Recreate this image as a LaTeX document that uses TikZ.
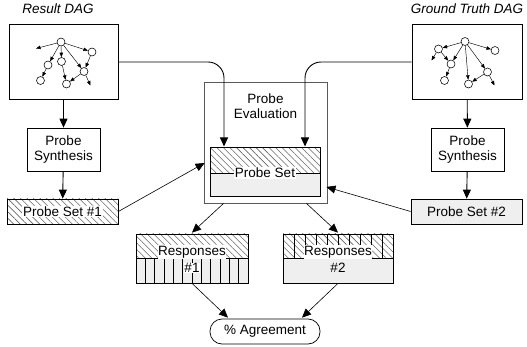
\documentclass[tikz,border=0pt]{standalone}
\usepackage{fontspec}
\setmainfont{Liberation Sans}
\usetikzlibrary{arrows.meta,patterns.meta,calc}
\definecolor{lgray}{HTML}{EFEFEF}
\tikzset{
  box/.style={draw=black, line width=0.7pt, inner sep=0pt},
  lbl/.style={inner sep=0.6pt, font=\fontsize{13.5}{15.5}\selectfont, align=center},
  wlbl/.style={lbl, fill=white},
  hatch/.style={pattern={Lines[angle=-45,distance=4.6pt,line width=0.55pt]}, pattern color=black!60},
  conn/.style={line width=0.9pt, -{Triangle[length=9pt,width=8pt]}},
  thinconn/.style={line width=0.6pt, -{Triangle[length=9pt,width=8pt]}},
  dagn/.style={circle, draw=black, line width=0.55pt, minimum size=8pt, inner sep=0pt, fill=white},
  dage/.style={line width=0.45pt, -{Triangle[length=4.5pt,width=3.5pt]}},
}
\begin{document}
\begin{tikzpicture}[x=1pt,y=-1pt]
\useasboundingbox (0,0) rectangle (527,347);

% titles
\node[lbl, font=\fontsize{13.5}{15.5}\selectfont\itshape] (t1) at (58,9) {Result DAG};
\node[lbl, font=\fontsize{13.5}{15.5}\selectfont\itshape] (t2) at (467,9) {Ground Truth DAG};

% DAG boxes
\node[box, minimum width=109pt, minimum height=75pt] (ldag) at (63.5,62) {};
\node[box, minimum width=110pt, minimum height=75pt] (rdag) at (467,62) {};

% left DAG
\node[dagn] (la) at (61,42) {};
\node[dagn] (lb) at (92,52) {};
\node[dagn] (lc) at (48,65) {};
\node[dagn] (ld) at (61.5,61.5) {};
\node[dagn] (le) at (84,71.5) {};
\node[dagn] (lf) at (40.5,80.5) {};
\node[dagn] (lg) at (66.5,84) {};
\coordinate (lx1) at (36,48.5);
\coordinate (lx2) at (90.5,85.5);
\draw[dage] (la) -- (lx1);
\draw[dage] (la) -- (lc);
\draw[dage] (la) -- (ld);
\draw[dage] (la) -- (lb);
\draw[dage] (la) -- (le);
\draw[dage] (lb) -- (le);
\draw[dage] (lc) -- (lf);
\draw[dage] (ld) -- (lg);
\draw[dage] (le) -- (lg);
\draw[dage] (le) -- (lx2);

% right DAG
\node[dagn] (ra) at (465,41.5) {};
\node[dagn] (rb) at (438.5,49) {};
\node[dagn] (rc) at (495,50.5) {};
\node[dagn] (rd) at (451,64) {};
\node[dagn] (re) at (487.5,72) {};
\node[dagn] (rf) at (444.5,80.5) {};
\node[dagn] (rg) at (468.5,84) {};
\coordinate (rx1) at (431.5,60.5);
\coordinate (rx2) at (494.5,85.5);
\draw[dage] (ra) -- (rb);
\draw[dage] (ra) -- (rc);
\draw[dage] (ra) -- (rd);
\draw[dage] (ra) -- (rg);
\draw[dage] (ra) -- (re);
\draw[dage] (rb) -- (rd);
\draw[dage] (rb) -- (rx1);
\draw[dage] (rd) -- (rf);
\draw[dage] (re) -- (rg);
\draw[dage] (re) -- (rx2);

% Probe synthesis
\node[box, lbl, minimum width=73pt, minimum height=43pt] (lsyn) at (63.5,149.5) {Probe\\Synthesis};
\node[box, lbl, minimum width=73pt, minimum height=43pt] (rsyn) at (467.5,149.5) {Probe\\Synthesis};

% Probe set #1 (hatched) and #2 (gray)
\fill[hatch] (7,199) rectangle (118,224);
\node[box, minimum width=111pt, minimum height=25pt] (ps1) at (62.5,211.5) {};
\node[wlbl] at (62.5,211.5) {Probe Set \#1};
\node[box, lbl, fill=lgray, minimum width=111pt, minimum height=25pt] (ps2) at (466.5,211.5) {Probe Set \#2};

% Probe evaluation
\node[draw=black!65, line width=0.9pt, minimum width=123pt, minimum height=121pt] (eval) at (265.5,142.5) {};
\node[lbl] (evt) at (265.5,106) {Probe\\Evaluation};
\fill[hatch] (210,148) rectangle (320,173);
\fill[lgray] (210,173) rectangle (320,197);
\draw[line width=0.6pt] (210,173) -- (320,173);
\node[draw=black, line width=1pt, minimum width=110pt, minimum height=49pt] (pset) at (265,172.5) {};
\node[wlbl] at (265,173) {Probe Set};

% Responses #1
\fill[hatch] (136,234) rectangle (248,258);
\fill[lgray] (136,258) rectangle (248,283);
\foreach \i in {1,...,11} \draw[line width=0.5pt] ({136+9.33*\i},258) -- ({136+9.33*\i},283);
\draw[line width=0.5pt] (136,258) -- (248,258);
\node[box, minimum width=112pt, minimum height=49pt] (resp1) at (192,258.5) {};
\node[wlbl] at (192,252) {Responses};
\node[wlbl] at (192,268) {\#1};

% Responses #2
\fill[hatch] (283,234) rectangle (393,258);
\foreach \i in {1,...,9} \draw[line width=0.5pt] ({283+11*\i},234) -- ({283+11*\i},258);
\fill[lgray] (283,258) rectangle (393,283);
\draw[line width=0.5pt] (283,258) -- (393,258);
\node[box, minimum width=110pt, minimum height=49pt] (resp2) at (338,258.5) {};
\node[wlbl] at (338,252) {Responses};
\node[lbl] at (338,268) {\#2};

% Agreement
\node[box, lbl, rounded corners=12pt, minimum width=110pt, minimum height=25pt] (agree) at (265,331.5) {\% Agreement};

% connectors
\draw[conn] (ldag) -- (lsyn);
\draw[conn] (lsyn) -- (ps1);
\draw[conn] (rdag) -- (rsyn);
\draw[conn] (rsyn) -- (ps2);
\draw[conn, rounded corners=16pt] (ldag.east) -| ($(pset.north)+(-41,-1)$);
\draw[conn, rounded corners=16pt] (rdag.west) -| ($(pset.north)+(40,-1)$);
\draw[thinconn] (ps1.east) -- ($(eval.west)+(1,20.5)$);
\draw[thinconn] (ps2.west) -- ($(eval.east)+(-1,44.5)$);
\draw[thinconn] ($(eval.south)+(-42,0)$) -- ($(resp1.north)+(0,-1)$);
\draw[thinconn] ($(eval.south)+(41,0)$) -- ($(resp2.north)+(0,-1)$);
\draw[thinconn] (resp1.south) -- ($(agree.north)+(-37,-1)$);
\draw[thinconn] (resp2.south) -- ($(agree.north)+(37,-1)$);
\end{tikzpicture}
\end{document}
